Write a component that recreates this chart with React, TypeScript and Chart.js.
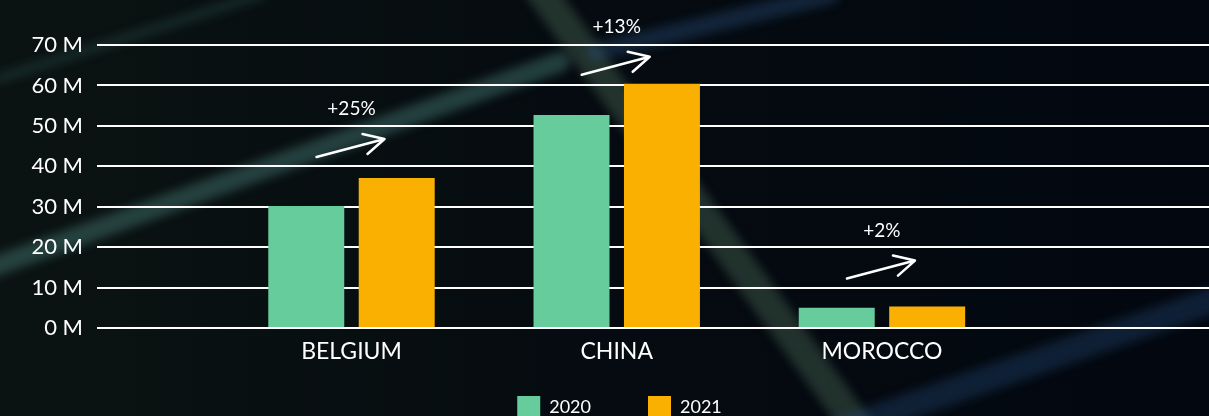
import React, { useEffect, useRef } from "react";
import { Chart, registerables } from "chart.js";

Chart.register(...registerables);

const categories = ["BELGIUM", "CHINA", "MOROCCO"];
const seriesLabels = ["2020", "2021"];
const values2020 = [30.2, 52.7, 5.0];
const values2021 = [37.1, 60.4, 5.3];
const growthLabels = ["+25%", "+13%", "+2%"];

const GREEN = "#66cc9c";
const ORANGE = "#f9b000";
const FONT = "Lato, 'Noto Sans', sans-serif";

const backgroundPlugin = {
  id: "photoBackground",
  beforeDraw(chart: any) {
    const { ctx, width, height } = chart;
    ctx.save();
    const g = ctx.createLinearGradient(0, 0, width, 0);
    g.addColorStop(0, "#0b1312");
    g.addColorStop(0.5, "#050b10");
    g.addColorStop(1, "#030810");
    ctx.fillStyle = g;
    ctx.fillRect(0, 0, width, height);
    const streaks: [number, number, number, number, number, string][] = [
      [-10, 268, 560, 62, 20, "rgba(70,125,118,0.45)"],
      [0, 78, 260, -5, 10, "rgba(50,95,92,0.3)"],
      [540, -10, 860, 430, 30, "rgba(95,135,105,0.32)"],
      [595, 52, 830, -5, 18, "rgba(45,85,135,0.35)"],
      [840, 430, 1220, 298, 26, "rgba(35,70,115,0.38)"],
    ];
    ctx.filter = "blur(5px)";
    ctx.lineCap = "round";
    for (const [x1, y1, x2, y2, w, c] of streaks) {
      ctx.strokeStyle = c;
      ctx.lineWidth = w;
      ctx.beginPath();
      ctx.moveTo(x1, y1);
      ctx.lineTo(x2, y2);
      ctx.stroke();
    }
    ctx.filter = "none";
    ctx.restore();
  },
};

const growthPlugin = {
  id: "growthArrows",
  afterDatasetsDraw(chart: any, _args: any, opts: any) {
    const { ctx } = chart;
    const xs = chart.scales.x;
    const ys = chart.scales.y;
    ctx.save();
    ctx.strokeStyle = "#ffffff";
    ctx.fillStyle = "#ffffff";
    ctx.lineWidth = 2.5;
    ctx.lineCap = "round";
    ctx.lineJoin = "round";
    ctx.font = `19px ${FONT}`;
    ctx.textAlign = "center";
    ctx.textBaseline = "middle";
    categories.forEach((_c, i) => {
      const cx = xs.getPixelForValue(i + 1);
      const top = ys.getPixelForValue(Math.max(values2020[i], values2021[i]));
      const y0 = top - opts.offsets[i];
      const sx = cx - 35;
      const ex = cx + 33;
      const ey = y0 - 18;
      ctx.beginPath();
      ctx.moveTo(sx, y0);
      ctx.lineTo(ex, ey);
      ctx.moveTo(ex - 22, ey - 5);
      ctx.lineTo(ex, ey);
      ctx.lineTo(ex - 17, ey + 15);
      ctx.stroke();
      ctx.fillText(growthLabels[i], cx, y0 - 48);
    });
    ctx.restore();
  },
};

export default function App() {
  const ref = useRef<HTMLCanvasElement | null>(null);

  useEffect(() => {
    document.body.style.margin = "0";
    if (!ref.current) return;
    const chart = new Chart(ref.current, {
      type: "bar",
      data: {
        datasets: [
          {
            label: seriesLabels[0],
            data: values2020.map((v, i) => ({ x: i + 1, y: v })),
            backgroundColor: GREEN,
            borderWidth: 0,
            categoryPercentage: 0.682,
            barPercentage: 0.84,
          },
          {
            label: seriesLabels[1],
            data: values2021.map((v, i) => ({ x: i + 1, y: v })),
            backgroundColor: ORANGE,
            borderWidth: 0,
            categoryPercentage: 0.682,
            barPercentage: 0.84,
          },
        ],
      },
      options: {
        animation: false,
        responsive: true,
        maintainAspectRatio: false,
        layout: { padding: { top: 45, left: 30, right: 0, bottom: 0 } },
        scales: {
          x: {
            type: "linear",
            offset: false,
            min: 0.0405,
            max: 4.233,
            grid: { display: false, offset: false },
            border: { display: false },
            afterBuildTicks: (s: any) => {
              s.ticks = categories.map((_c, i) => ({ value: i + 1 }));
            },
            afterFit: (s: any) => {
              s.height = 11;
            },
            ticks: {
              color: "#ffffff",
              font: { family: FONT, size: 23 },
              mirror: true,
              padding: -37.8,
              maxRotation: 0,
              minRotation: 0,
              autoSkip: false,
              callback: (v: any) => categories[Math.round(Number(v)) - 1] ?? "",
            },
          },
          y: {
            min: 0,
            max: 70,
            grid: { color: "#ffffff", lineWidth: 2, drawTicks: false },
            border: { display: false },
            afterFit: (s: any) => {
              s.width = 67;
            },
            ticks: {
              stepSize: 10,
              color: "#ffffff",
              font: { family: FONT, size: 22 },
              padding: 14,
              callback: (v: any) => `${v} M`,
            },
          },
        },
        plugins: {
          legend: {
            position: "bottom",
            maxHeight: 77,
            labels: {
              color: "#ffffff",
              font: { family: FONT, size: 18 },
              boxWidth: 23,
              boxHeight: 23,
              padding: 57,
            },
          },
          tooltip: { enabled: false },
          growthArrows: { offsets: [21, 9, 28] },
        } as any,
      },
      plugins: [backgroundPlugin, growthPlugin],
    });
    return () => chart.destroy();
  }, []);

  return (
    <div style={{ position: "fixed", left: 0, top: 0, width: 1209, height: 416, overflow: "hidden" }}>
      <canvas ref={ref} />
    </div>
  );
}
